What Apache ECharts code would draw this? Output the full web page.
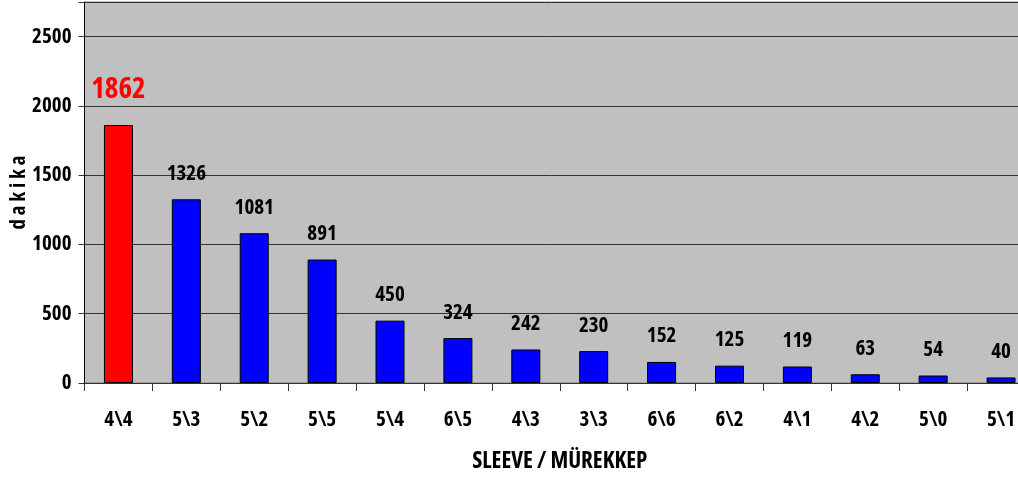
<!DOCTYPE html>
<html><head><meta charset="utf-8">
<script src="https://cdn.jsdelivr.net/npm/echarts@6/dist/echarts.min.js"></script>
<style>html,body{margin:0;padding:0;background:#fff}#c{width:1018px;height:477px}</style>
</head><body><div id="c"></div>
<script>
const categories = ['4\\4','5\\3','5\\2','5\\5','5\\4','6\\5','4\\3','3\\3','6\\6','6\\2','4\\1','4\\2','5\\0','5\\1'];
const values = [1862,1326,1081,891,450,324,242,230,152,125,119,63,54,40];
const highlightIndex = 0;
const yMax = 2750;
const yInterval = 500;
const FONT = '"Open Sans", "Liberation Sans", sans-serif';
const ST = 'condensed';

const chart = echarts.init(document.getElementById('c'), null, {renderer:'canvas'});
const data = values.map((v,i) => {
  const hi = i === highlightIndex;
  return {
    value: v,
    itemStyle: {color: hi ? '#ff0000' : '#0000ff'},
    label: hi ? {color:'#ff0000', fontSize:29, distance:21} : {}
  };
});
chart.setOption({
  animation:false,
  grid:{left:84.5, top:2, bottom:94, right:-17, show:true, backgroundColor:'#c0c0c0', borderColor:'#808080', borderWidth:1, containLabel:false, outerBoundsMode:'none'},
  xAxis:{
    type:'category', data:categories,
    name:'SLEEVE / MÜREKKEP', nameLocation:'middle', nameGap:67,
    nameTextStyle:{fontStyle:ST, fontFamily:FONT, fontWeight:'bold', fontSize:23, color:'#000'},
    axisLine:{lineStyle:{color:'#333', width:1}},
    axisTick:{show:true, length:8, lineStyle:{color:'#333'}},
    axisLabel:{fontStyle:ST, fontFamily:FONT, fontWeight:'bold', fontSize:21, color:'#000', margin:27}
  },
  yAxis:{
    type:'value', min:0, max:yMax, interval:yInterval,
    name:'d a k i k a', nameLocation:'middle', nameGap:55, nameRotate:90, nameMoveOverlap:false,
    nameTextStyle:{fontStyle:ST, fontFamily:FONT, fontWeight:'bold', fontSize:21, color:'#000'},
    axisLine:{show:true, lineStyle:{color:'#000', width:1}},
    axisTick:{show:true, length:6, lineStyle:{color:'#333'}},
    axisLabel:{fontStyle:ST, fontFamily:FONT, fontWeight:'bold', fontSize:21, color:'#000', margin:13,
      formatter: v => (v % yInterval === 0 ? String(v) : '')},
    splitLine:{show:true, lineStyle:{color:'#333', width:1}}
  },
  series:[{
    type:'bar', data:data, barWidth:29,
    itemStyle:{borderColor:'#000', borderWidth:1},
    label:{show:true, position:'top', distance:15, fontStyle:ST, fontFamily:FONT, fontWeight:'bold', fontSize:21, color:'#000'}
  }]
});
</script></body></html>
